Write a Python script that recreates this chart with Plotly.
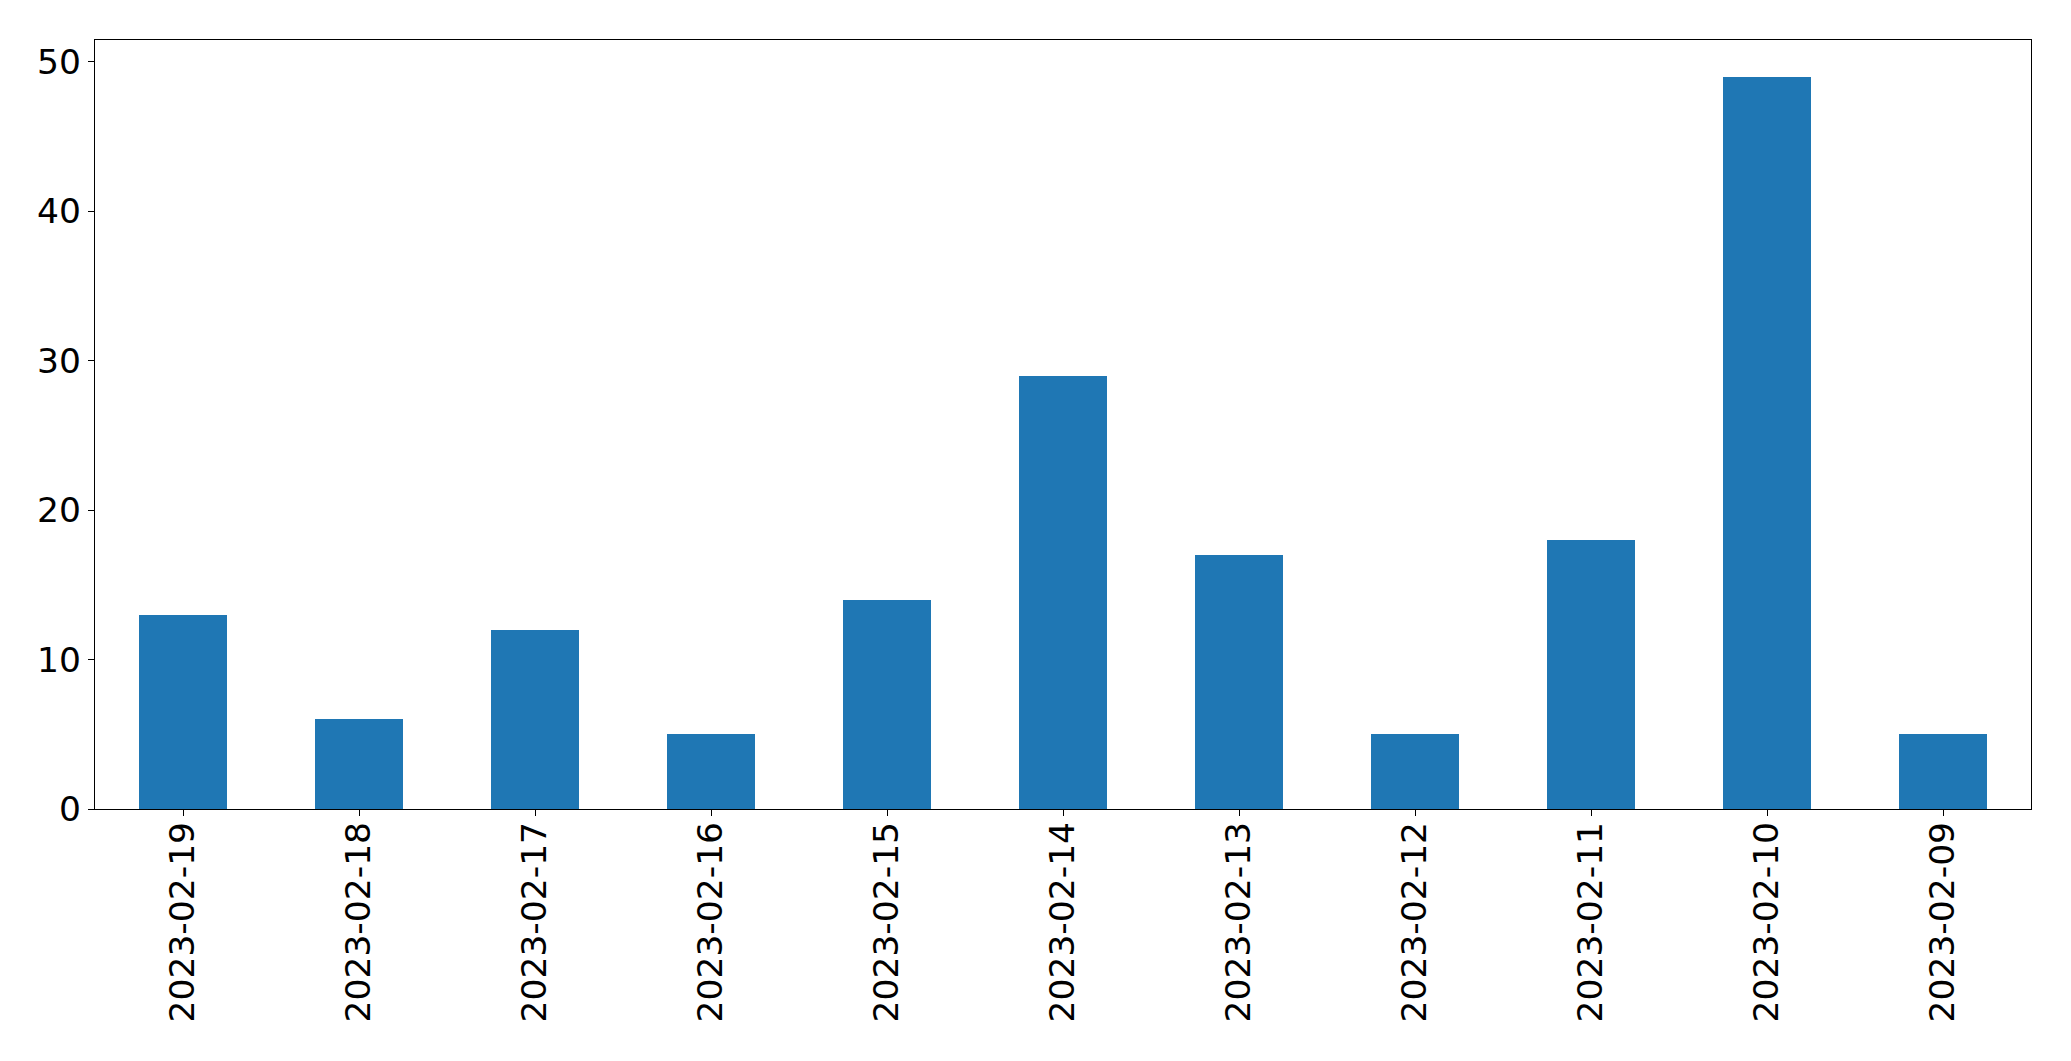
import plotly.graph_objects as go

dates = ["2023-02-19", "2023-02-18", "2023-02-17", "2023-02-16", "2023-02-15",
         "2023-02-14", "2023-02-13", "2023-02-12", "2023-02-11", "2023-02-10", "2023-02-09"]
counts = [13, 6, 12, 5, 14, 29, 17, 5, 18, 49, 5]
y_ticks = [0, 10, 20, 30, 40, 50]

fig = go.Figure(go.Bar(x=list(range(len(dates))), y=counts, width=0.5,
                       marker=dict(color="#1f77b4", line=dict(width=0))))

fig.update_layout(
    width=2071, height=1061,
    margin=dict(l=86.5, r=48, t=31.5, b=260, autoexpand=False),
    paper_bgcolor="white", plot_bgcolor="white",
    font=dict(family="DejaVu Sans", size=34.5, color="black"),
    showlegend=False,
    bargap=0,
)
fig.update_xaxes(
    range=[-0.5, len(dates) - 0.5], automargin=False,
    tickmode="array", tickvals=list(range(len(dates))), ticktext=dates,
    tickangle=-90, ticks="outside", ticklen=6, tickwidth=1, tickcolor="black",
    ticklabelstandoff=-8,
    showline=True, linecolor="black", linewidth=1.3, mirror=True,
    showgrid=False, zeroline=False,
)
fig.update_yaxes(
    range=[0, 51.45], automargin=False,
    tickmode="array", tickvals=y_ticks,
    ticks="outside", ticklen=6, tickwidth=1, tickcolor="black",
    showline=True, linecolor="black", linewidth=1.3, mirror=True,
    showgrid=False, zeroline=False,
)
fig.write_html("out.html")
